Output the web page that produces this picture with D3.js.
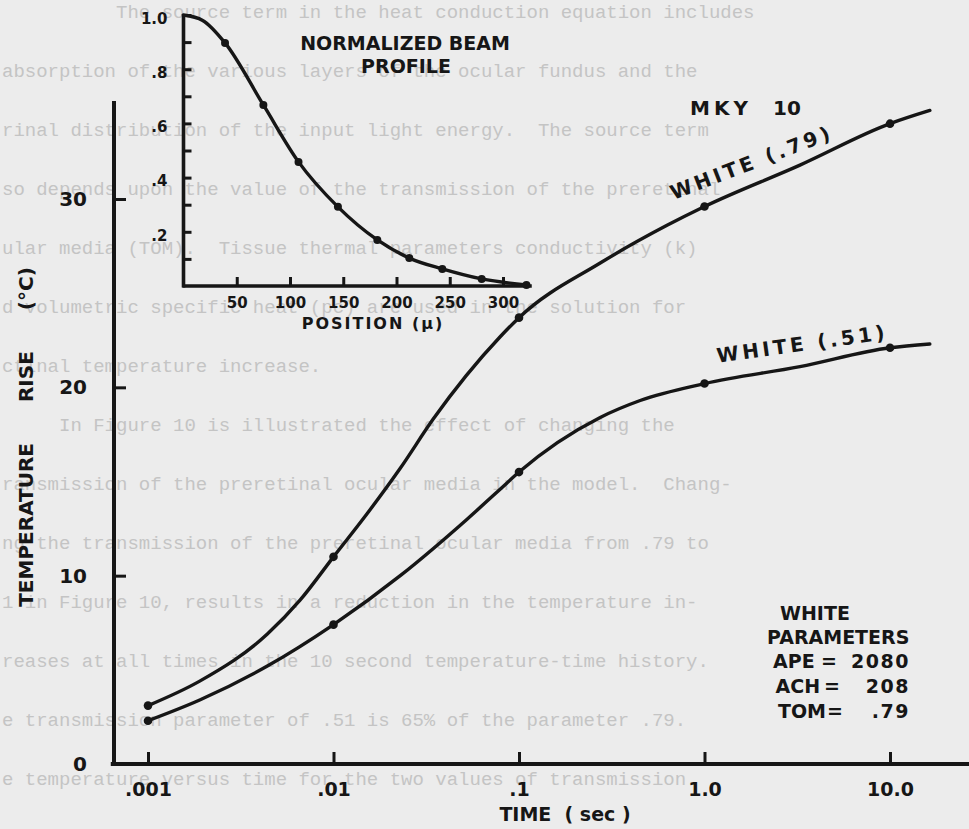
<!DOCTYPE html>
<html>
<head>
<meta charset="utf-8">
<script src="https://cdn.jsdelivr.net/npm/d3@7"></script>
<style>
  html, body { margin: 0; padding: 0; background: #ececec; }
  svg { display: block; }
  .ink { font-family: "DejaVu Sans", sans-serif; font-weight: bold; fill: #161616; }
  .paper { font-family: "Liberation Mono", "DejaVu Sans Mono", monospace; font-size: 19px; fill: #c4c4c4; white-space: pre; }
</style>
</head>
<body>
<svg id="chart"></svg>
<script>
// ---- main chart: temperature rise vs time (log) ----
const times79 = [0.001, 0.0019, 0.0044, 0.0066, 0.01, 0.0152, 0.0229, 0.0344, 0.0794, 0.1, 0.274, 0.628, 1, 3.27, 10, 16.4];
const white79 = [3.1, 4.4, 6.9, 8.7, 11.0, 13.3, 15.7, 18.3, 22.7, 23.7, 26.6, 28.6, 29.6, 31.8, 34.0, 34.7];
const times51 = [0.001, 0.0019, 0.0044, 0.01, 0.0229, 0.0525, 0.0794, 0.1, 0.274, 0.45, 1, 3.27, 10, 16.4];
const white51 = [2.3, 3.4, 5.2, 7.4, 10.0, 13.0, 14.6, 15.5, 18.4, 19.3, 20.2, 21.1, 22.1, 22.3];
const dotTimes = [0.001, 0.01, 0.1, 1, 10];

const timeTicks = [0.001, 0.01, 0.1, 1, 10];
const timeTickLabels = ['.001', '.01', '.1', '1.0', '10.0'];
const tempTicks = [0, 10, 20, 30];

// ---- inset: normalized beam profile ----
const position = [0, 18, 39, 75, 108, 145, 182, 212, 243, 280, 322];
const beam = [1.0, 0.98, 0.897, 0.668, 0.458, 0.292, 0.170, 0.103, 0.063, 0.026, 0.004];
const beamDots = [39, 75, 108, 145, 182, 212, 243, 280, 322];
const positionTicks = [50, 100, 150, 200, 250, 300];
const beamTicks = [0.1, 0.2, 0.3, 0.4, 0.5, 0.6, 0.7, 0.8, 0.9, 1.0];
const beamTickLabels = {0.2: '.2', 0.4: '.4', 0.6: '.6', 0.8: '.8', 1: '1.0'};

const paramNames = ['APE', 'ACH', 'TOM'];
const paramValues = ['2080', '208', '.79'];

// faint typewriter text of the scanned page behind the figure
const paperLines = [
  '          The source term in the heat conduction equation includes',
  'absorption of the various layers of the ocular fundus and the',
  'rinal distribution of the input light energy.  The source term',
  'so depends upon the value of the transmission of the preretinal',
  'ular media (TOM).  Tissue thermal parameters conductivity (k)',
  'd volumetric specific heat (pc) are used in the solution for',
  'ctinal temperature increase.',
  '     In Figure 10 is illustrated the effect of changing the',
  'ransmission of the preretinal ocular media in the model.  Chang-',
  'ng the transmission of the preretinal ocular media from .79 to',
  '1 in Figure 10, results in a reduction in the temperature in-',
  'reases at all times in the 10 second temperature-time history.',
  'e transmission parameter of .51 is 65% of the parameter .79.',
  'e temperature versus time for the two values of transmission'
];

const W = 969, H = 829;
const ink = '#161616';
const FONT = '"DejaVu Sans", sans-serif';

const svg = d3.select('#chart')
    .attr('width', W)
    .attr('height', H);

svg.append('g')
    .selectAll('text')
    .data(paperLines)
    .join('text')
    .attr('class', 'paper')
    .attr('x', 2)
    .attr('y', (d, i) => 18 + i * 59)
    .text(d => d);

function styleAxis(g, size) {
    g.attr('font-family', null).attr('font-size', null);
    g.select('.domain').remove();
    g.selectAll('.tick line').attr('stroke', ink).attr('stroke-width', 3);
    g.selectAll('.tick text')
        .attr('fill', ink)
        .style('font-family', FONT)
        .style('font-weight', 'bold')
        .style('font-size', size + 'px');
}

// ---------- main chart ----------
const x = d3.scaleLog().domain([0.001, 10]).range([148, 890]);
const y = d3.scaleLinear().domain([0, 30]).range([764, 199]);

const main = svg.append('g');

main.append('line')
    .attr('x1', x(0.00063)).attr('x2', x(30))
    .attr('y1', y(0)).attr('y2', y(0))
    .attr('stroke', ink).attr('stroke-width', 4);

main.append('line')
    .attr('x1', 114).attr('x2', 114)
    .attr('y1', y(0) + 2).attr('y2', y(35.2))
    .attr('stroke', ink).attr('stroke-width', 4);

const xAxisG = main.append('g')
    .attr('transform', `translate(0, ${y(0)})`)
    .call(d3.axisBottom(x)
        .tickValues(timeTicks)
        .tickFormat(d => timeTickLabels[timeTicks.indexOf(d)])
        .tickSizeInner(-12)
        .tickSizeOuter(0)
        .tickPadding(19));
styleAxis(xAxisG, 19);

const yAxisG = main.append('g')
    .attr('transform', 'translate(114, 0)')
    .call(d3.axisLeft(y)
        .tickValues(tempTicks)
        .tickFormat(d3.format('d'))
        .tickSizeInner(-12)
        .tickSizeOuter(0)
        .tickPadding(27));
styleAxis(yAxisG, 20);

const series = [
    {name: 'WHITE (.79)', values: times79.map((t, i) => ({t: t, v: white79[i]}))},
    {name: 'WHITE (.51)', values: times51.map((t, i) => ({t: t, v: white51[i]}))}
];

const line = d3.line()
    .x(d => x(d.t))
    .y(d => y(d.v))
    .curve(d3.curveMonotoneX);

main.selectAll('path.series')
    .data(series)
    .join('path')
    .attr('class', 'series')
    .attr('d', d => line(d.values))
    .attr('fill', 'none')
    .attr('stroke', ink)
    .attr('stroke-width', 3.4)
    .attr('stroke-linecap', 'round');

main.selectAll('circle.dot')
    .data(series.flatMap(s => s.values.filter(p => dotTimes.includes(p.t))))
    .join('circle')
    .attr('class', 'dot')
    .attr('cx', d => x(d.t))
    .attr('cy', d => y(d.v))
    .attr('r', 4.3)
    .attr('fill', ink);

// curve labels
main.append('text')
    .attr('class', 'ink')
    .attr('transform', `translate(${x(0.68)}, ${y(29.95)}) rotate(-21)`)
    .style('font-size', '20px')
    .style('letter-spacing', '3.5px')
    .text(series[0].name);

main.append('text')
    .attr('class', 'ink')
    .attr('transform', `translate(${x(1.18)}, ${y(21.3)}) rotate(-8)`)
    .style('font-size', '20px')
    .style('letter-spacing', '3.5px')
    .text(series[1].name);

main.append('text')
    .attr('class', 'ink')
    .attr('x', 690).attr('y', 115)
    .style('font-size', '20px')
    .style('letter-spacing', '4px')
    .text('MKY');
main.append('text')
    .attr('class', 'ink')
    .attr('x', 773).attr('y', 115)
    .style('font-size', '20px')
    .text('10');

// axis titles
main.append('text')
    .attr('class', 'ink')
    .attr('transform', 'translate(33, 437) rotate(-90)')
    .attr('text-anchor', 'middle')
    .style('font-size', '20px')
    .style('word-spacing', '34px')
    .text('TEMPERATURE RISE (°C)');

main.append('text')
    .attr('class', 'ink')
    .attr('x', 565).attr('y', 821)
    .attr('text-anchor', 'middle')
    .style('font-size', '19px')
    .style('white-space', 'pre')
    .text('TIME  ( sec )');

// parameter block
const block = main.append('g').style('font-size', '19px');
block.append('text').attr('class', 'ink').attr('x', 780).attr('y', 620).text('WHITE');
block.append('text').attr('class', 'ink').attr('x', 767).attr('y', 644).text('PARAMETERS');
block.selectAll('text.pname')
    .data(paramNames)
    .join('text')
    .attr('class', 'ink pname')
    .attr('x', (d, i) => 773 + i * 2.5)
    .attr('y', (d, i) => 668 + i * 25)
    .text(d => d);
block.selectAll('text.peq')
    .data(paramNames)
    .join('text')
    .attr('class', 'ink peq')
    .attr('x', (d, i) => 829 + i * 3)
    .attr('y', (d, i) => 668 + i * 25)
    .attr('text-anchor', 'middle')
    .text('=');
block.selectAll('text.pval')
    .data(paramValues)
    .join('text')
    .attr('class', 'ink pval')
    .attr('x', 910)
    .attr('y', (d, i) => 668 + i * 25)
    .attr('text-anchor', 'end')
    .style('letter-spacing', '1.5px')
    .text(d => d);

// ---------- inset ----------
const xi = d3.scaleLinear().domain([0, 300]).range([183.5, 503]);
const yi = d3.scaleLinear().domain([0, 1]).range([286, 15]);
const inset = svg.append('g');

inset.append('line')
    .attr('x1', xi(0) - 1).attr('x2', xi(327))
    .attr('y1', yi(0)).attr('y2', yi(0))
    .attr('stroke', ink).attr('stroke-width', 3.6);
inset.append('line')
    .attr('x1', xi(0)).attr('x2', xi(0))
    .attr('y1', yi(0) + 1.5).attr('y2', yi(1) - 1)
    .attr('stroke', ink).attr('stroke-width', 3.6);

const xiAxisG = inset.append('g')
    .attr('transform', `translate(0, ${yi(0)})`)
    .call(d3.axisBottom(xi)
        .tickValues(positionTicks)
        .tickSizeInner(-9)
        .tickSizeOuter(0)
        .tickPadding(11));
styleAxis(xiAxisG, 15);

const yiAxisG = inset.append('g')
    .attr('transform', `translate(${xi(0)}, 0)`)
    .call(d3.axisLeft(yi)
        .tickValues(beamTicks)
        .tickFormat(d => beamTickLabels[Math.round(d * 10) / 10] || '')
        .tickSizeInner(-8)
        .tickSizeOuter(0)
        .tickPadding(16));
styleAxis(yiAxisG, 15);
yiAxisG.selectAll('.tick text').attr('dy', '0.55em');

const beamPts = position.map((p, i) => ({p: p, v: beam[i]}));
const beamLine = d3.line()
    .x(d => xi(d.p))
    .y(d => yi(d.v))
    .curve(d3.curveMonotoneX);

inset.append('path')
    .attr('d', beamLine(beamPts))
    .attr('fill', 'none')
    .attr('stroke', ink)
    .attr('stroke-width', 3.4)
    .attr('stroke-linecap', 'round');

inset.selectAll('circle')
    .data(beamPts.filter(d => beamDots.includes(d.p)))
    .join('circle')
    .attr('cx', d => xi(d.p))
    .attr('cy', d => yi(d.v))
    .attr('r', 4)
    .attr('fill', ink);

inset.append('text')
    .attr('class', 'ink')
    .attr('x', 405).attr('y', 50)
    .attr('text-anchor', 'middle')
    .style('font-size', '19px')
    .text('NORMALIZED BEAM');
inset.append('text')
    .attr('class', 'ink')
    .attr('x', 406).attr('y', 73)
    .attr('text-anchor', 'middle')
    .style('font-size', '19px')
    .text('PROFILE');
inset.append('text')
    .attr('class', 'ink')
    .attr('x', 373).attr('y', 329)
    .attr('text-anchor', 'middle')
    .style('font-size', '16px')
    .style('letter-spacing', '2px')
    .text('POSITION (µ)');
</script>
</body>
</html>
